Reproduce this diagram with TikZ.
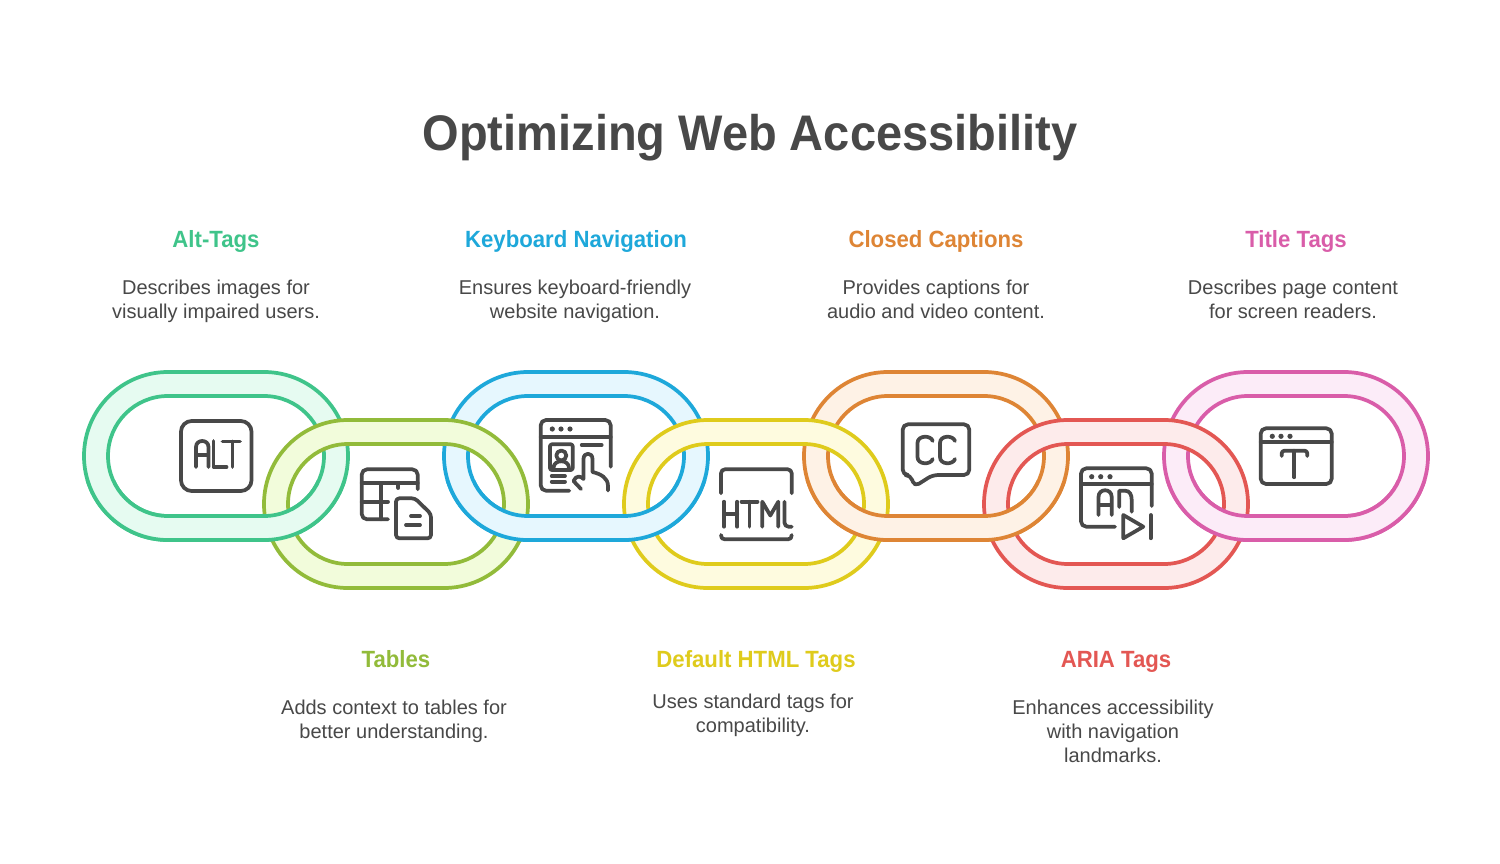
\documentclass[tikz,border=0pt]{standalone}
\usepackage{fontspec}
\setmainfont{Liberation Sans}
\newfontface\titleface[FakeStretch=0.94]{Liberation Sans Bold}
\newfontface\headface[FakeStretch=0.945]{Liberation Sans Bold}
\definecolor{ink}{HTML}{484848}
\definecolor{cA}{HTML}{3FC48A}\definecolor{fA}{HTML}{E6FBF1}
\definecolor{cB}{HTML}{92BB3A}\definecolor{fB}{HTML}{F2FCDB}
\definecolor{cC}{HTML}{1EA8DA}\definecolor{fC}{HTML}{E6F7FE}
\definecolor{cD}{HTML}{DFCB1C}\definecolor{fD}{HTML}{FEFBDF}
\definecolor{cE}{HTML}{DE8535}\definecolor{fE}{HTML}{FEF2E6}
\definecolor{cF}{HTML}{E35753}\definecolor{fF}{HTML}{FDEBEB}
\definecolor{cG}{HTML}{D95DA9}\definecolor{fG}{HTML}{FCECF8}
\tikzset{
  ring/.style={line width=2.8pt,even odd rule},
  icon/.style={draw=ink,line width=2.8pt,line cap=round,line join=round},
  dot/.style={fill=ink,draw=none},
  head/.style={font=\fontsize{17.6pt}{21pt}\headface,anchor=base,inner sep=0pt},
  body/.style={font=\fontsize{15pt}{18pt}\selectfont,text=ink,align=center,anchor=north,inner sep=0pt},
}
\newcommand{\ringlink}[3]{%
  \path[ring,draw=c#3,fill=f#3,shift={(#1,#2)}]
    (84,0) -- (180,0) .. controls (226.39,0) and (264,37.61) .. (264,84)
    .. controls (264,130.39) and (226.39,168) .. (180,168) -- (84,168)
    .. controls (37.61,168) and (0,130.39) .. (0,84)
    .. controls (0,37.61) and (37.61,0) .. (84,0) -- cycle
    (84,24) -- (180,24) .. controls (213.14,24) and (240,50.86) .. (240,84)
    .. controls (240,117.14) and (213.14,144) .. (180,144) -- (84,144)
    .. controls (50.86,144) and (24,117.14) .. (24,84)
    .. controls (24,50.86) and (50.86,24) .. (84,24) -- cycle;}
\begin{document}
\begin{tikzpicture}[x=0.75pt,y=-0.75pt]
\useasboundingbox (0,0) rectangle (1500,864);
\fill[white] (0,0) rectangle (1500,864);
% links: upper row first, lower row above it
\ringlink{84}{372}{A}\ringlink{444}{372}{C}\ringlink{804}{372}{E}\ringlink{1164}{372}{G}
\ringlink{264}{420}{B}\ringlink{624}{420}{D}\ringlink{984}{420}{F}
\begin{scope}
\clip (0,480) rectangle (1500,864);
\ringlink{84}{372}{A}\ringlink{444}{372}{C}\ringlink{804}{372}{E}\ringlink{1164}{372}{G}
\end{scope}
% ALT
\draw[icon,rounded corners=8pt] (181,421) rectangle (251.5,491);
\draw[icon] (196,467) -- (196,447) .. controls (196,439) and (208.5,439) .. (208.5,447) -- (208.5,467) (196,455) -- (208.5,455);
\draw[icon] (213.5,441) -- (213.5,467) -- (226.5,467);
\draw[icon] (222.5,441.5) -- (240,441.5) (232.5,441.5) -- (232.5,467);
% table + doc
\draw[icon,rounded corners=4pt] (388,519.3) -- (361.7,519.3) -- (361.7,469.3) -- (417.7,469.3) -- (417.7,489.3);
\draw[icon] (361.7,483.3) -- (417.7,483.3) (361.7,501.7) -- (388,501.7) (380.7,483.3) -- (380.7,519.3) (398.3,483.3) -- (398.3,488);
\draw[icon,rounded corners=2.5pt] (396,498.3) -- (415,498.3) -- (431,514) -- (431,538.3) -- (396,538.3) -- cycle;
\draw[icon] (411,516) -- (420,516) (406,525) -- (420,525);
% keyboard
\draw[icon,rounded corners=4pt] (569.3,490.7) -- (540.7,490.7) -- (540.7,420) -- (610.7,420) -- (610.7,466.7);
\draw[icon] (540.7,437.3) -- (610.7,437.3);
\fill[dot] (552.3,429) circle[radius=2.6] (561,429) circle[radius=2.6] (570,429) circle[radius=2.6];
\draw[icon,rounded corners=1.5pt] (550,444.3) rectangle (572.7,470);
\draw[icon] (561.3,455.5) circle[radius=5];
\draw[icon] (553.5,468) .. controls (553.5,459) and (569,459) .. (569,468);
\draw[icon] (581.7,445) -- (601.7,445) (551.7,476) -- (565,476) (551.7,481.7) -- (565,481.7);
\draw[icon] (581,489) -- (573.5,481) .. controls (576,475) and (581,476) .. (583.5,479) -- (583.5,459) .. controls (583.5,452) and (592.5,452) .. (592.5,459) -- (592.5,472) .. controls (601,474) and (608,478) .. (608,486) -- (608,490.5);
% HTML
\draw[icon,rounded corners=3pt] (721,493.3) -- (721,469.3) -- (791.7,469.3) -- (791.7,493.3);
\draw[icon] (721,535) .. controls (721,538) and (722,539.3) .. (725,539.3) -- (788,539.3) .. controls (790.5,539.3) and (791.7,538) .. (791.7,535);
\draw[icon] (724,501.7) -- (724,526.7) (737.3,501.7) -- (737.3,526.7) (724,514.3) -- (737.3,514.3);
\draw[icon] (741.5,501.7) -- (757.5,501.7) (749.5,501.7) -- (749.5,526.7);
\draw[icon] (762.3,526.7) -- (762.3,501.7) -- (770.3,515.5) -- (778.3,501.7) -- (778.3,526.7);
\draw[icon,rounded corners=3pt] (784.5,501.7) -- (784.5,526.7) -- (791.7,526.7);
% CC
\draw[icon,rounded corners=4pt] (910.7,475) -- (914.3,486.7) -- (932.7,475) -- (969.3,475) -- (969.3,424.3) -- (902.7,424.3) -- (902.7,475) -- cycle;
\draw[icon] (932.7,441) .. controls (931,435) and (917.5,435) .. (917.5,443) -- (917.5,457) .. controls (917.5,465) and (931,465) .. (932.7,459);
\draw[icon] (955,441) .. controls (953,435) and (940,435) .. (940,443) -- (940,457) .. controls (940,465) and (953,465) .. (955,459);
% ARIA
\draw[icon,rounded corners=4pt] (1115,526.7) -- (1081,526.7) -- (1081,468.3) -- (1151.7,468.3) -- (1151.7,506);
\draw[icon] (1081,484.3) -- (1151.7,484.3);
\fill[dot] (1091.7,476.7) circle[radius=2.6] (1100.7,476.7) circle[radius=2.6] (1110,476.7) circle[radius=2.6];
\draw[icon] (1098.5,515) -- (1098.5,497) .. controls (1098.5,488) and (1111.7,488) .. (1111.7,497) -- (1111.7,515) (1098.5,505) -- (1111.7,505);
\draw[icon] (1119.3,507) -- (1119.3,490.7) -- (1125,490.7) .. controls (1130,490.7) and (1131.7,495) .. (1131.7,500) -- (1131.7,511.7);
\draw[icon] (1123.3,515) -- (1123.3,538.3) -- (1143.3,526.7) -- cycle;
\draw[icon] (1150.7,515) -- (1150.7,538.3);
% Title
\draw[icon,rounded corners=4pt] (1260.7,428.3) rectangle (1331.7,484);
\draw[icon] (1260.7,442.3) -- (1331.7,442.3);
\fill[dot] (1272.3,436.3) circle[radius=2.6] (1281,436.3) circle[radius=2.6] (1290,436.3) circle[radius=2.6];
\draw[icon,rounded corners=2pt] (1281.7,456) -- (1281.7,450.7) -- (1307.3,450.7) -- (1307.3,456);
\draw[icon] (1294.3,450.7) -- (1294.3,477.3);
% texts
\node[font=\fontsize{37.5pt}{44pt}\titleface,text=ink,inner sep=0pt,anchor=base] (title) at (750,150) {Optimizing Web Accessibility};
\node[head,text=cA] (h1) at (216,247) {Alt-Tags};
\node[head,text=cC] (h3) at (576,247) {Keyboard Navigation};
\node[head,text=cE] (h5) at (936,247) {Closed Captions};
\node[head,text=cG] (h7) at (1296,247) {Title Tags};
\node[head,text=cB] (h2) at (396,667) {Tables};
\node[head,text=cD] (h4) at (756,667) {Default HTML Tags};
\node[head,text=cF] (h6) at (1116,667) {ARIA Tags};
\node[body] (b1) at (216,280) {Describes images for\\visually impaired users.};
\node[body] (b3) at (575,280) {Ensures keyboard-friendly\\website navigation.};
\node[body] (b5) at (936,280) {Provides captions for\\audio and video content.};
\node[body] (b7) at (1293,280) {Describes page content\\for screen readers.};
\node[body] (b2) at (394,700) {Adds context to tables for\\better understanding.};
\node[body] (b4) at (753,694) {Uses standard tags for\\compatibility.};
\node[body] (b6) at (1113,700) {Enhances accessibility\\with navigation\\landmarks.};
\end{tikzpicture}
\end{document}
